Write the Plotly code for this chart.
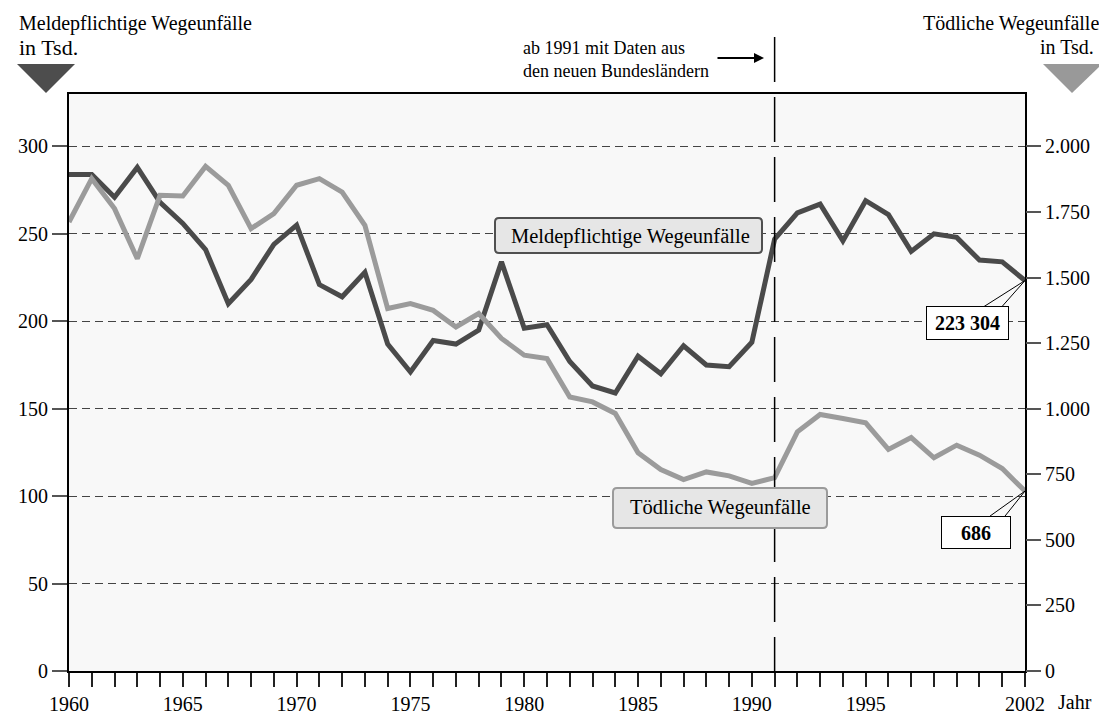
import plotly.graph_objects as go

# Daten
years = list(range(1960, 2003))

# Meldepflichtige Wegeunfälle in Tsd. (linke Achse)
meldepflichtig = [284, 284, 271, 288, 268, 256, 241, 210, 224, 244,
                  255, 221, 214, 228, 187, 171, 189, 187, 195, 234,
                  196, 198, 177, 163, 159, 180, 170, 186, 175, 174,
                  188, 247, 262, 267, 246, 269, 261, 240, 250, 248,
                  235, 234, 223.304]

# Tödliche Wegeunfälle (rechte Achse)
toedlich = [1712, 1877, 1763, 1572, 1814, 1811, 1924, 1852, 1687, 1744,
            1852, 1877, 1826, 1699, 1382, 1401, 1375, 1312, 1363, 1268,
            1204, 1191, 1045, 1026, 982, 832, 768, 730, 759, 744,
            715, 737, 912, 978, 963, 946, 845, 890, 813, 861,
            823, 772, 686]

x_labels = {1960: "1960", 1965: "1965", 1970: "1970", 1975: "1975",
            1980: "1980", 1985: "1985", 1990: "1990", 1995: "1995", 2002: "2002"}
left_ticks = [0, 50, 100, 150, 200, 250, 300]
right_ticks = [0, 250, 500, 750, 1000, 1250, 1500, 1750, 2000]
right_labels = ["0", "250", "500", "750", "1.000", "1.250", "1.500", "1.750", "2.000"]

FONT = "Liberation Serif, Times New Roman, serif"
DARK = "#4a4a4a"
LIGHT = "#9b9b9b"

# Bildschirmkoordinaten der Plotfläche (die Seite hat 8px Body-Rand)
PAGE_W, PAGE_H, BODY = 1107, 714, 8
L, R, T, B = 69, 1025, 94, 671
W_FIG, H_FIG = PAGE_W - BODY, PAGE_H - BODY


def px(x):
    return (x - L) / (R - L)


def py(y):
    return (B - y) / (B - T)


def rounded_box(x0, y0, x1, y1, r=4):
    pts = [
        ("M", x0 + r, y0), ("L", x1 - r, y0), ("Q", x1, y0, x1, y0 + r),
        ("L", x1, y1 - r), ("Q", x1, y1, x1 - r, y1), ("L", x0 + r, y1),
        ("Q", x0, y1, x0, y1 - r), ("L", x0, y0 + r), ("Q", x0, y0, x0 + r, y0),
    ]
    out = []
    for p in pts:
        coords = p[1:]
        s = []
        for i in range(0, len(coords), 2):
            s.append(f"{px(coords[i]):.5f},{py(coords[i + 1]):.5f}")
        out.append(p[0] + " ".join(s))
    return " ".join(out) + " Z"


def text_note(x, y, text, size=20, xanchor="center", **kw):
    return dict(xref="paper", yref="paper", x=px(x), y=py(y), text=text,
                xanchor=xanchor, yanchor="middle", showarrow=False,
                font=dict(size=size, color="black", family=FONT), **kw)


fig = go.Figure()

fig.add_trace(go.Scatter(
    x=years, y=toedlich, yaxis="y2", mode="lines",
    line=dict(color=LIGHT, width=5), showlegend=False, hoverinfo="skip"
))
fig.add_trace(go.Scatter(
    x=years, y=meldepflichtig, mode="lines",
    line=dict(color=DARK, width=5), showlegend=False, hoverinfo="skip"
))

shapes = []
annotations = []

# Dreiecke oben
shapes.append(dict(type="path", xref="paper", yref="paper", line=dict(width=0),
                   fillcolor="#4d4d4d",
                   path=f"M{px(17)},{py(64)} L{px(75)},{py(64)} L{px(46)},{py(93)} Z"))
shapes.append(dict(type="path", xref="paper", yref="paper", line=dict(width=0),
                   fillcolor="#999999",
                   path=f"M{px(1043)},{py(64)} L{px(1102)},{py(64)} L{px(1072)},{py(93)} Z"))

# Trennlinie 1991
shapes.append(dict(type="line", xref="x", yref="paper", x0=1991, x1=1991,
                   y0=py(37), y1=0, line=dict(color="black", width=1.5, dash="45px,15px")))

# Beschriftungsboxen der Linien
shapes.append(dict(type="path", xref="paper", yref="paper", fillcolor="#e6e6e6",
                   line=dict(color="#505050", width=2), path=rounded_box(495, 218, 762, 253)))
shapes.append(dict(type="path", xref="paper", yref="paper", fillcolor="#e6e6e6",
                   line=dict(color="#9b9b9b", width=2), path=rounded_box(613, 488, 827, 528)))
annotations.append(text_note(630, 236, "Meldepflichtige Wegeunfälle", size=20.5))
annotations.append(text_note(720, 508, "Tödliche Wegeunfälle", size=20.5))

# Wertelabels am Ende
shapes.append(dict(type="path", xref="x", yref="y", xsizemode="pixel", ysizemode="pixel",
                   xanchor=years[-1], yanchor=meldepflichtig[-1],
                   path="M0,0 L-41,-26 M0,0 L-23,-26", line=dict(color="black", width=1)))
shapes.append(dict(type="path", xref="x", yref="y2", xsizemode="pixel", ysizemode="pixel",
                   xanchor=years[-1], yanchor=toedlich[-1],
                   path="M0,0 L-35,-25 M0,0 L-20,-25", line=dict(color="black", width=1)))
annotations.append(dict(xref="x", yref="y", x=years[-1], y=meldepflichtig[-1],
                        xanchor="center", yanchor="middle",
                        xshift=-58, yshift=-42, showarrow=False,
                        text="<b>" + f"{meldepflichtig[-1]:.3f}".replace(".", " ") + "</b>",
                        bgcolor="white", bordercolor="black", borderwidth=1, borderpad=1,
                        width=79, height=30,
                        font=dict(size=20, color="black", family=FONT)))
annotations.append(dict(xref="x", yref="y2", x=years[-1], y=toedlich[-1],
                        xanchor="center", yanchor="middle",
                        xshift=-49, yshift=-41, showarrow=False,
                        text=f"<b>{toedlich[-1]}</b>",
                        bgcolor="white", bordercolor="black", borderwidth=1, borderpad=1,
                        width=66, height=29,
                        font=dict(size=20, color="black", family=FONT)))

# Achsentitel oben und Hinweise
annotations += [
    text_note(17, 24, "Meldepflichtige Wegeunfälle", xanchor="left"),
    text_note(17, 47, "in Tsd.", size=22, xanchor="left"),
    text_note(1101, 24, "Tödliche Wegeunfälle", xanchor="right"),
    text_note(1096, 47, "in Tsd.", xanchor="right"),
    text_note(521, 59, "ab 1991 mit Daten aus<br>den neuen Bundesländern",
              size=18, xanchor="left", align="left"),
    dict(xref="paper", yref="paper", x=px(764), y=py(58), ax=-48, ay=0,
         axref="pixel", ayref="pixel", text="", showarrow=True,
         arrowhead=2, arrowsize=1, arrowwidth=2, arrowcolor="black"),
    text_note(1056, 702, "Jahr", xanchor="left"),
]

fig.update_layout(
    width=W_FIG, height=H_FIG,
    margin=dict(l=L - BODY, r=PAGE_W - R, t=T - BODY, b=PAGE_H - B,
                autoexpand=False),
    paper_bgcolor="white",
    plot_bgcolor="#f8f8f8",
    font=dict(family=FONT, size=20, color="black"),
    shapes=shapes,
    annotations=annotations,
    xaxis=dict(
        range=[1960, 2002], automargin=False,
        tickvals=years,
        ticktext=[x_labels.get(y, "") for y in years],
        ticks="outside", ticklen=14, tickwidth=1.5, tickcolor="#222",
        showline=True, linecolor="black", linewidth=2, mirror=True,
        showgrid=False, zeroline=False,
        tickfont=dict(size=20, family=FONT, color="black"),
    ),
    yaxis=dict(
        range=[0, 330], automargin=False,
        tickvals=left_ticks,
        ticks="outside", ticklen=15, tickwidth=1.5, tickcolor="#555",
        showline=True, linecolor="black", linewidth=2, mirror=True,
        showgrid=True, gridcolor="#444", gridwidth=1, griddash="8px,5px",
        zeroline=False,
        tickfont=dict(size=20, family=FONT, color="black"),
    ),
    yaxis2=dict(
        range=[0, 2200], overlaying="y", side="right", automargin=False,
        tickvals=right_ticks, ticktext=right_labels,
        ticks="outside", ticklen=15, tickwidth=1.5, tickcolor="#555",
        showline=False, showgrid=False, zeroline=False,
        tickfont=dict(size=20, family=FONT, color="black"),
    ),
)

fig.write_html("out.html")
